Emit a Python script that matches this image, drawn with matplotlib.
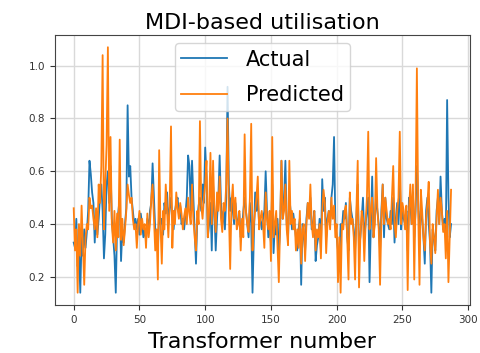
import matplotlib
matplotlib.use("Agg")
import matplotlib.pyplot as plt
import numpy as np

# utilisation values, 24 transformers per row
actual = [
    0.33, 0.31, 0.42, 0.24, 0.30, 0.14, 0.35, 0.28, 0.38, 0.31, 0.37, 0.45, 0.64, 0.59, 0.52, 0.48, 0.33, 0.45, 0.36, 0.42, 0.50, 0.55, 0.45, 0.27,
    0.36, 0.55, 0.60, 0.48, 0.62, 0.42, 0.35, 0.28, 0.14, 0.40, 0.45, 0.50, 0.26, 0.38, 0.33, 0.40, 0.46, 0.85, 0.58, 0.62, 0.50, 0.45, 0.40, 0.42,
    0.38, 0.42, 0.36, 0.44, 0.40, 0.35, 0.38, 0.34, 0.42, 0.37, 0.45, 0.48, 0.63, 0.50, 0.38, 0.35, 0.30, 0.45, 0.40, 0.42, 0.36, 0.48, 0.44, 0.52,
    0.40, 0.46, 0.50, 0.42, 0.38, 0.45, 0.48, 0.50, 0.44, 0.47, 0.40, 0.42, 0.38, 0.44, 0.50, 0.66, 0.62, 0.45, 0.64, 0.50, 0.38, 0.25, 0.42, 0.47,
    0.50, 0.45, 0.55, 0.48, 0.69, 0.58, 0.35, 0.40, 0.48, 0.30, 0.55, 0.45, 0.30, 0.42, 0.50, 0.66, 0.48, 0.40, 0.45, 0.38, 0.50, 0.92, 0.55, 0.45,
    0.50, 0.45, 0.40, 0.48, 0.42, 0.40, 0.44, 0.35, 0.38, 0.45, 0.50, 0.45, 0.40, 0.35, 0.48, 0.40, 0.14, 0.35, 0.52, 0.45, 0.50, 0.40, 0.42, 0.38,
    0.42, 0.45, 0.60, 0.45, 0.35, 0.40, 0.33, 0.55, 0.29, 0.40, 0.36, 0.42, 0.30, 0.38, 0.64, 0.42, 0.50, 0.64, 0.40, 0.35, 0.50, 0.45, 0.38, 0.44,
    0.40, 0.35, 0.30, 0.38, 0.42, 0.17, 0.40, 0.35, 0.30, 0.42, 0.48, 0.45, 0.50, 0.38, 0.40, 0.45, 0.26, 0.32, 0.35, 0.42, 0.30, 0.57, 0.45, 0.50,
    0.35, 0.42, 0.45, 0.40, 0.50, 0.55, 0.73, 0.40, 0.35, 0.30, 0.25, 0.40, 0.38, 0.45, 0.42, 0.48, 0.35, 0.30, 0.50, 0.45, 0.42, 0.38, 0.30, 0.42,
    0.55, 0.30, 0.35, 0.42, 0.50, 0.35, 0.40, 0.45, 0.50, 0.18, 0.40, 0.58, 0.35, 0.42, 0.50, 0.45, 0.40, 0.30, 0.45, 0.55, 0.35, 0.50, 0.42, 0.40,
    0.38, 0.45, 0.40, 0.50, 0.33, 0.42, 0.48, 0.40, 0.58, 0.38, 0.45, 0.42, 0.40, 0.45, 0.30, 0.50, 0.48, 0.40, 0.52, 0.35, 0.45, 0.62, 0.48, 0.35,
    0.45, 0.42, 0.35, 0.25, 0.45, 0.50, 0.40, 0.33, 0.14, 0.38, 0.35, 0.30, 0.45, 0.50, 0.40, 0.58, 0.45, 0.38, 0.42, 0.35, 0.87, 0.50, 0.35, 0.40,
]
predicted = [
    0.46, 0.30, 0.38, 0.14, 0.40, 0.28, 0.47, 0.32, 0.17, 0.35, 0.40, 0.38, 0.50, 0.46, 0.47, 0.42, 0.38, 0.46, 0.35, 0.55, 0.48, 0.62, 1.04, 0.38,
    0.55, 0.70, 1.07, 0.45, 0.73, 0.40, 0.33, 0.45, 0.30, 0.44, 0.35, 0.72, 0.34, 0.42, 0.32, 0.38, 0.45, 0.55, 0.51, 0.48, 0.50, 0.42, 0.38, 0.40,
    0.31, 0.40, 0.45, 0.36, 0.42, 0.38, 0.40, 0.31, 0.44, 0.35, 0.40, 0.50, 0.55, 0.42, 0.30, 0.38, 0.19, 0.68, 0.40, 0.25, 0.45, 0.38, 0.55, 0.45,
    0.35, 0.48, 0.77, 0.31, 0.45, 0.40, 0.52, 0.46, 0.42, 0.48, 0.44, 0.38, 0.43, 0.46, 0.40, 0.50, 0.44, 0.40, 0.55, 0.42, 0.35, 0.30, 0.45, 0.40,
    0.79, 0.47, 0.42, 0.50, 0.55, 0.64, 0.35, 0.45, 0.67, 0.40, 0.64, 0.45, 0.37, 0.52, 0.45, 0.58, 0.42, 0.37, 0.48, 0.45, 0.55, 0.80, 0.45, 0.23,
    0.48, 0.55, 0.42, 0.50, 0.38, 0.40, 0.45, 0.30, 0.42, 0.35, 0.74, 0.45, 0.40, 0.37, 0.50, 0.78, 0.30, 0.40, 0.45, 0.50, 0.58, 0.38, 0.42, 0.45,
    0.40, 0.31, 0.52, 0.42, 0.38, 0.45, 0.26, 0.73, 0.35, 0.40, 0.45, 0.32, 0.18, 0.40, 0.64, 0.42, 0.45, 0.55, 0.38, 0.32, 0.64, 0.40, 0.45, 0.38,
    0.42, 0.30, 0.38, 0.31, 0.45, 0.25, 0.38, 0.40, 0.26, 0.40, 0.48, 0.42, 0.55, 0.40, 0.35, 0.45, 0.30, 0.38, 0.35, 0.40, 0.27, 0.45, 0.53, 0.48,
    0.29, 0.40, 0.45, 0.38, 0.50, 0.42, 0.47, 0.35, 0.40, 0.18, 0.35, 0.14, 0.40, 0.38, 0.45, 0.47, 0.35, 0.19, 0.52, 0.40, 0.42, 0.35, 0.19, 0.45,
    0.64, 0.16, 0.35, 0.45, 0.42, 0.26, 0.40, 0.50, 0.75, 0.38, 0.45, 0.50, 0.35, 0.40, 0.65, 0.45, 0.38, 0.17, 0.42, 0.55, 0.40, 0.50, 0.45, 0.40,
    0.42, 0.38, 0.50, 0.62, 0.40, 0.35, 0.45, 0.50, 0.75, 0.40, 0.48, 0.45, 0.38, 0.47, 0.15, 0.45, 0.55, 0.40, 0.55, 0.19, 0.50, 0.99, 0.45, 0.17,
    0.53, 0.45, 0.35, 0.30, 0.42, 0.48, 0.56, 0.33, 0.25, 0.40, 0.35, 0.29, 0.42, 0.53, 0.40, 0.50, 0.45, 0.37, 0.40, 0.27, 0.45, 0.18, 0.35, 0.53,
]
assert len(actual) == len(predicted) == 288

fig = plt.figure(figsize=(4.81, 3.53), dpi=100)
ax = fig.add_axes([0.114, 0.136, 0.863, 0.765])
ax.plot(actual, color='#1f77b4', lw=1.3, label='Actual')
ax.plot(predicted, color='#ff7f0e', lw=1.3, label='Predicted')
ax.grid(True, color='#d9d9d9', lw=1.0)
ax.set_axisbelow(True)
ax.tick_params(labelsize=7.5, colors='#333333')
ax.set_title('MDI-based utilisation', fontsize=16, pad=4)
ax.set_xlabel('Transformer number', fontsize=16, labelpad=5)
ax.legend(loc='upper center', fontsize=15, borderaxespad=0.4, borderpad=0.3,
          labelspacing=0.75, handlelength=2.2, handletextpad=0.9)
for sp in ax.spines.values():
    sp.set_color('#444444')

fig.savefig('out.png', dpi=100)
